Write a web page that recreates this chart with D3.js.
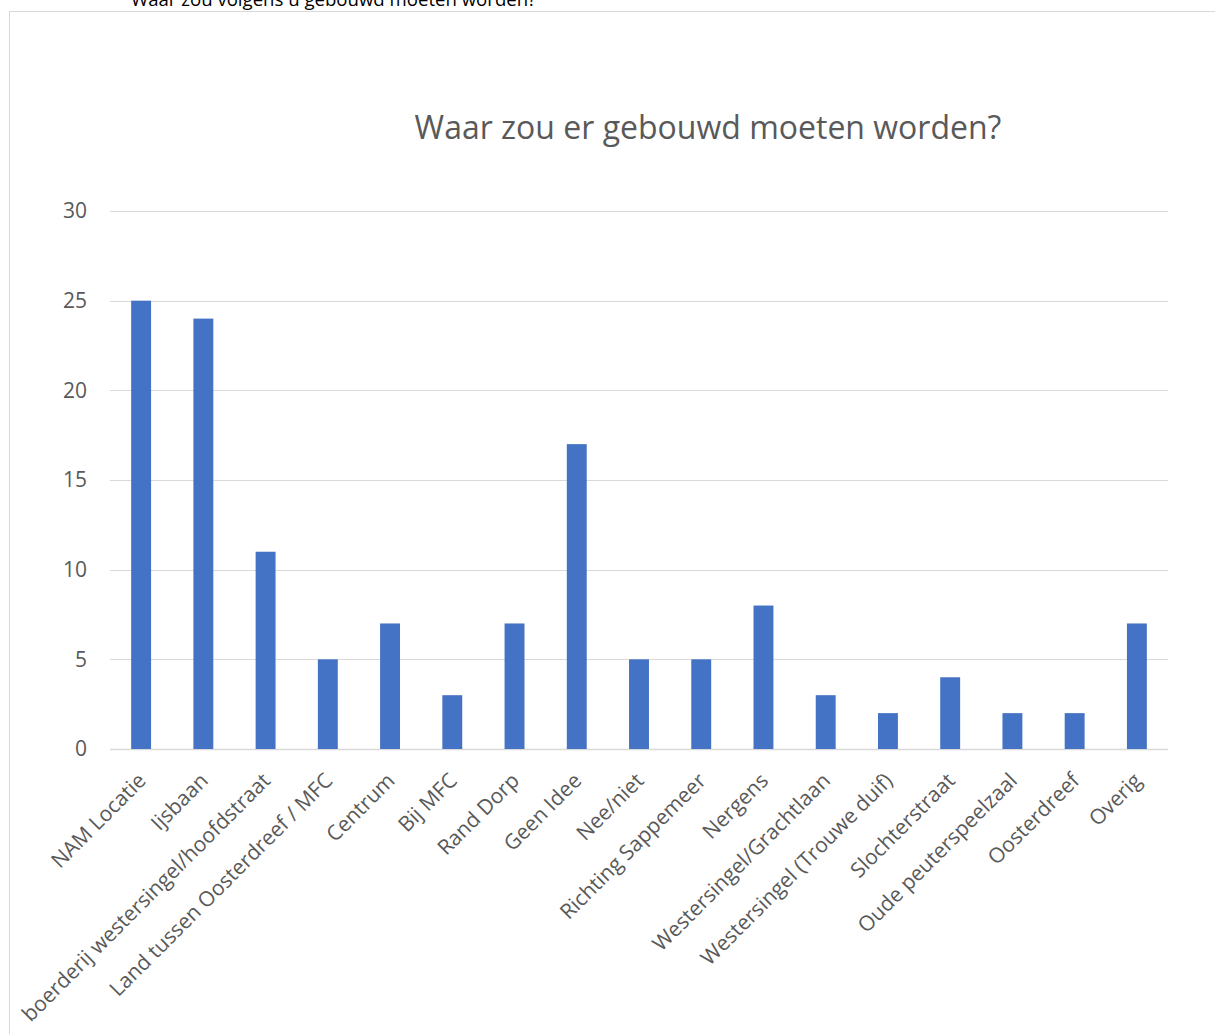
<!DOCTYPE html>
<html>
<head>
<meta charset="utf-8">
<script src="https://cdn.jsdelivr.net/npm/d3@7"></script>
<style>
  html, body { margin: 0; padding: 0; background: #fff; overflow: hidden; }
  svg { display: block; }
  text { font-family: "Open Sans", sans-serif; }
</style>
</head>
<body>
<svg id="chart" width="1215" height="1034"></svg>
<script>
const categories = [
  "NAM Locatie", "Ijsbaan", "boerderij westersingel/hoofdstraat",
  "Land tussen Oosterdreef / MFC", "Centrum", "Bij MFC", "Rand Dorp",
  "Geen Idee", "Nee/niet", "Richting Sappemeer", "Nergens",
  "Westersingel/Grachtlaan", "Westersingel (Trouwe duif)", "Slochterstraat",
  "Oude peuterspeelzaal", "Oosterdreef", "Overig"
];
const values = [25, 24, 11, 5, 7, 3, 7, 17, 5, 5, 8, 3, 2, 4, 2, 2, 7];
const yTicks = [0, 5, 10, 15, 20, 25, 30];
const chartTitle = "Waar zou er gebouwd moeten worden?";
const pageHeading = "Waar zou volgens u gebouwd moeten worden?";

const svg = d3.select("#chart");

svg.append("text")
  .attr("x", 131).attr("y", 6)
  .attr("font-size", 18.6).attr("fill", "#000")
  .text(pageHeading);

svg.append("rect")
  .attr("x", 9.5).attr("y", 11.5)
  .attr("width", 1215).attr("height", 1040)
  .attr("fill", "none").attr("stroke", "#d9d9d9").attr("stroke-width", 1);

const margin = { left: 110, right: 1168, top: 211, bottom: 749 };

const x = d3.scaleBand()
  .domain(categories)
  .range([margin.left, margin.right])
  .paddingInner(0.68).paddingOuter(0.34);

const y = d3.scaleLinear()
  .domain([0, 30])
  .range([margin.bottom, margin.top]);

svg.append("g")
  .selectAll("line")
  .data(yTicks)
  .join("line")
  .attr("x1", margin.left).attr("x2", margin.right)
  .attr("y1", d => Math.round(y(d)) + 0.5).attr("y2", d => Math.round(y(d)) + 0.5)
  .attr("stroke", "#d9d9d9").attr("stroke-width", d => d === 0 ? 1.5 : 1);

svg.append("g")
  .selectAll("text")
  .data(yTicks)
  .join("text")
  .attr("x", 87).attr("y", d => y(d))
  .attr("dy", "0.35em")
  .attr("text-anchor", "end")
  .attr("font-size", 21).attr("fill", "#595959")
  .text(d => d);

svg.append("g")
  .selectAll("rect")
  .data(values)
  .join("rect")
  .attr("x", (d, i) => x(categories[i]))
  .attr("width", x.bandwidth())
  .attr("y", d => y(d))
  .attr("height", d => y(0) - y(d))
  .attr("fill", "#4472c4");

svg.append("g")
  .selectAll("text")
  .data(categories)
  .join("text")
  .attr("transform", d => `translate(${x(d) + x.bandwidth() / 2 + 6},${y(0) + 33}) rotate(-45)`)
  .attr("text-anchor", "end")
  .attr("font-size", 21).attr("fill", "#595959")
  .text(d => d);

svg.append("text")
  .attr("x", 708).attr("y", 139)
  .attr("text-anchor", "middle")
  .attr("font-size", 32).attr("fill", "#595959")
  .text(chartTitle);
</script>
</body>
</html>
